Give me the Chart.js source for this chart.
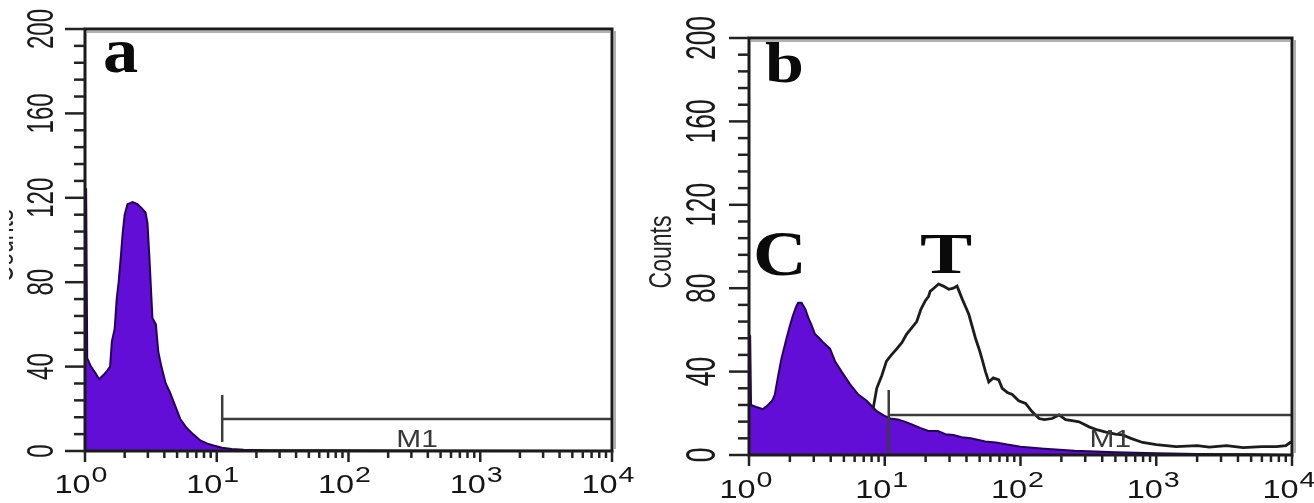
<!DOCTYPE html>
<html><head><meta charset="utf-8">
<script src="https://cdn.jsdelivr.net/npm/chart.js@4.4.1/dist/chart.umd.min.js"></script>
<style>
html,body{margin:0;padding:0;background:#fff;width:1314px;height:503px;overflow:hidden}
canvas{position:absolute;top:0}
#ca{left:0}#cb{left:640px}
</style></head>
<body>
<canvas id="ca" width="640" height="503"></canvas>
<canvas id="cb" width="674" height="503"></canvas>
<script>
// ---------- DATA ----------
// Panel a: single (control) histogram, fluorescence intensity vs counts
const aX = [1, 1.02, 1.04, 1.11, 1.2, 1.28, 1.38, 1.47, 1.55, 1.6, 1.68, 1.74, 1.8, 1.87, 1.93, 2.0, 2.1, 2.3, 2.5, 2.7, 2.88, 2.98, 3.08, 3.25, 3.45, 3.6, 3.8, 4.1, 4.4, 4.8, 5.3, 5.9, 6.6, 7.5, 8.5, 9.6, 11, 13, 16, 25, 60, 200, 1000, 10000];
const aY = [124, 124, 44, 40, 37, 34, 36, 38, 40, 52, 58, 72, 80, 92, 103, 112, 117, 118, 117, 115, 113, 108, 92, 63, 60, 47, 40, 32, 28, 22, 15, 11, 8, 5, 3.5, 2.5, 1.5, 1, 0.6, 0.4, 0.3, 0.2, 0.1, 0];
// Panel b: control (C, filled) histogram
const cX = [1, 1.02, 1.035, 1.13, 1.27, 1.38, 1.48, 1.55, 1.64, 1.73, 1.89, 2.0, 2.11, 2.22, 2.3, 2.44, 2.6, 2.73, 2.9, 3.06, 3.3, 3.52, 3.95, 4.3, 4.81, 5.54, 6.39, 7.36, 8.73, 9.8, 11, 12.5, 14, 16, 18.2, 21, 24.6, 28, 32, 37, 43, 55, 66, 80, 100, 150, 250, 500, 1000, 2000, 5000, 10000];
const cY = [57, 57, 24, 23, 22, 24, 26, 29, 38, 46, 56, 62, 67, 71, 73, 73, 70, 66, 62, 58, 56, 54, 51, 45, 40, 34, 29, 26, 21, 19, 17.5, 17, 16, 14.5, 13, 11.5, 11.5, 10, 9.6, 8.5, 8, 6.5, 6, 5, 4, 3, 2, 1.3, 0.8, 0.5, 0.3, 0];
// Panel b: treated (T, outline) histogram
const tX = [8.2, 8.73, 9.5, 10.3, 11.2, 12.3, 13.4, 14.5, 15.8, 17.2, 18.5, 19.9, 21.0, 21.6, 23, 24.9, 27, 29.6, 32, 34.1, 37.1, 41.6, 46.6, 50, 52.1, 55.2, 58.4, 63, 69.2, 73.3, 80, 86.9, 97, 109, 122, 137, 150, 171, 192, 215, 240, 270, 320, 370, 426, 500, 565, 650, 794, 1000, 1400, 2000, 2460, 3300, 4370, 6000, 7690, 9000, 9700, 10000];
const tY = [22, 32, 38, 45, 48, 51, 54, 58, 61, 64, 70, 74, 76, 78.5, 80, 82, 81, 79.5, 80, 81, 75, 67.5, 56, 50, 46, 40, 35, 37, 36, 32, 30, 29, 26, 24.7, 20.7, 17.5, 17, 17.5, 19.2, 17, 16.5, 15.9, 13.5, 12, 11, 10, 9.6, 8, 6, 5, 4, 4.5, 3.8, 4.5, 3.5, 4, 4, 4.5, 6, 6];
// Axis ticks
const yTickValues = [0, 40, 80, 120, 160, 200];
const yTickLabels = ['0', '40', '80', '120', '160', '200'];
const yMinorStep = 8;
const xDecades = [1, 10, 100, 1000, 10000];
const xTickExps = ['0', '1', '2', '3', '4'];
// M1 marker gates
const m1A = { label: 'M1', start: 11, end: 10000, level: 15.2 };
const m1B = { label: 'M1', start: 10.7, end: 10000, level: 19.2 };
const panelLetters = ['a', 'b'];
const yTitle = 'Counts';

// ---------- DRAW HELPERS ----------
function sText(ctx, txt, x, y, font, sx, align, color) {
  ctx.save(); ctx.translate(x, y); ctx.scale(sx, 1);
  ctx.font = font; ctx.textAlign = align || 'left'; ctx.textBaseline = 'alphabetic';
  ctx.fillStyle = color || '#111'; ctx.fillText(txt, 0, 0); ctx.restore();
}
function rotText(ctx, txt, cx, cy, fontPx, family, weight, along, color) {
  ctx.save(); ctx.translate(cx, cy); ctx.rotate(-Math.PI / 2); ctx.scale(along, 1);
  ctx.font = weight + ' ' + fontPx + 'px ' + family;
  ctx.textAlign = 'center'; ctx.textBaseline = 'alphabetic';
  ctx.fillStyle = color; ctx.fillText(txt, 0, 0.358 * fontPx); ctx.restore();
}
function seg(ctx, x1, y1, x2, y2) { ctx.beginPath(); ctx.moveTo(x1, y1); ctx.lineTo(x2, y2); ctx.stroke(); }

function framePlugin(p) {
  return {
    id: 'frame' + p.key,
    afterDatasetsDraw(chart) {
      const ctx = chart.ctx, xs = chart.scales.x, ys = chart.scales.y, ca = chart.chartArea;
      const L = ca.left, R = ca.right, T = ca.top, B = ca.bottom;
      ctx.save();
      ctx.lineCap = 'butt';
      // M1 gate
      const g = p.gate;
      const gx = xs.getPixelForValue(g.start), gx2 = xs.getPixelForValue(g.end), gy = ys.getPixelForValue(g.level);
      ctx.strokeStyle = '#3c3c3c'; ctx.lineWidth = 2.5;
      seg(ctx, gx, gy, gx2, gy);
      seg(ctx, gx, gy - p.gateUp, gx, gy + p.gateDown);
      // M1 label
      sText(ctx, g.label, (gx + gx2) / 2 + p.m1dx, gy + p.m1dy, '23px "Liberation Sans"', 1.3, 'center', '#383838');
      // frame shadow
      ctx.strokeStyle = '#b0b0b0'; ctx.lineWidth = 2;
      seg(ctx, L + 2, T + 3, R - 2, T + 3);
      seg(ctx, R + 3, T + 2, R + 3, B - 2);
      // frame
      ctx.strokeStyle = '#1a1a1a'; ctx.lineWidth = 3;
      ctx.strokeRect(L, T, R - L, B - T);
      // y ticks
      ctx.lineWidth = 2.5; ctx.strokeStyle = '#222';
      for (let v = 0; v <= 200; v += yMinorStep) {
        const y = ys.getPixelForValue(v);
        const major = yTickValues.indexOf(v) >= 0;
        seg(ctx, L - (major ? 20 : 11), y, L, y);
      }
      yTickValues.forEach((v, i) => {
        const y = ys.getPixelForValue(v);
        rotText(ctx, yTickLabels[i], L - p.ylabOff, y, p.yFont, '"Liberation Sans"', 'normal', p.yAlong, '#1a1a1a');
      });
      // x ticks
      for (let d = 0; d < xDecades.length; d++) {
        const x = xs.getPixelForValue(xDecades[d]);
        seg(ctx, x, B, x, B + 11);
        if (d < xDecades.length - 1) {
          for (let m = 2; m <= 9; m++) {
            const xm = xs.getPixelForValue(xDecades[d] * m);
            seg(ctx, xm, B, xm, B + 7);
          }
        }
      }
      // x labels 10^n
      xDecades.forEach((v, i) => {
        const x = xs.getPixelForValue(v) + p.xlabDx;
        ctx.font = '25px "Liberation Sans"';
        const w1 = ctx.measureText('10').width * 1.3;
        ctx.font = '22px "Liberation Sans"';
        const w2 = ctx.measureText(xTickExps[i]).width * 1.3;
        const x0 = x - (w1 + w2 + 1) / 2;
        sText(ctx, '10', x0, p.xBase, '25px "Liberation Sans"', 1.3, 'left', '#151515');
        sText(ctx, xTickExps[i], x0 + w1 + 1, p.xSup, '22px "Liberation Sans"', 1.3, 'left', '#151515');
      });
      // y axis title (Counts), optionally clipped (cropped in the original figure)
      ctx.save();
      if (p.titleClipX !== undefined) { ctx.beginPath(); ctx.rect(p.titleClipX, 0, 200, chart.height); ctx.clip(); }
      rotText(ctx, yTitle, L + p.titleDx, p.titleY, 32, '"Liberation Sans"', 'normal', 0.72, '#222');
      ctx.restore();
      // annotations
      p.notes.forEach(n => sText(ctx, n.t, n.x, n.y, 'bold ' + n.f + 'px "Liberation Serif"', n.sx, 'left', '#0a0a0a'));
      ctx.restore();
    }
  };
}

function pts(xs, ys) { return xs.map((x, i) => ({ x: x, y: ys[i] })); }

function makeChart(id, datasets, pad, plugin) {
  return new Chart(document.getElementById(id), {
    type: 'line',
    data: { datasets: datasets },
    options: {
      responsive: false, animation: false, devicePixelRatio: 1,
      layout: { padding: pad },
      plugins: { legend: { display: false }, tooltip: { enabled: false } },
      elements: { point: { radius: 0 }, line: { tension: 0 } },
      scales: {
        x: { type: 'logarithmic', min: 1, max: 10000, display: false },
        y: { type: 'linear', min: 0, max: 200, display: false }
      }
    },
    plugins: [plugin]
  });
}

const PURPLE = 'rgb(98,14,214)';
const EDGE = '#24005c';

makeChart('ca', [
  { data: pts(aX, aY), fill: 'origin', backgroundColor: PURPLE, borderColor: EDGE, borderWidth: 2 }
], { left: 85, right: 28, top: 29, bottom: 52 }, framePlugin({
  key: 'a', gate: m1A, gateUp: 24, gateDown: 23, m1dx: 0, m1dy: 28,
  ylabOff: 45, yFont: 36, yAlong: 0.667, xlabDx: -4, xBase: 493, xSup: 482,
  titleDx: -83, titleY: 246, titleClipX: 9,
  notes: [{ t: panelLetters[0], x: 103, y: 72, f: 64, sx: 1.1 }]
}));

makeChart('cb', [
  { data: pts(tX, tY), fill: false, borderColor: '#1c1c1c', borderWidth: 2.8, order: 0 },
  { data: pts(cX, cY), fill: 'origin', backgroundColor: PURPLE, borderColor: EDGE, borderWidth: 2, order: 1 }
], { left: 109, right: 22, top: 38, bottom: 48 }, framePlugin({
  key: 'b', gate: m1B, gateUp: 25, gateDown: 38, m1dx: 20, m1dy: 32,
  ylabOff: 49, yFont: 42, yAlong: 0.63, xlabDx: -3, xBase: 498, xSup: 487,
  titleDx: -89, titleY: 252,
  notes: [
    { t: panelLetters[1], x: 125, y: 82, f: 56, sx: 1.25 },
    { t: 'C', x: 113, y: 275, f: 63, sx: 1.18 },
    { t: 'T', x: 280, y: 273, f: 58, sx: 1.35 }
  ]
}));
</script>
</body></html>
